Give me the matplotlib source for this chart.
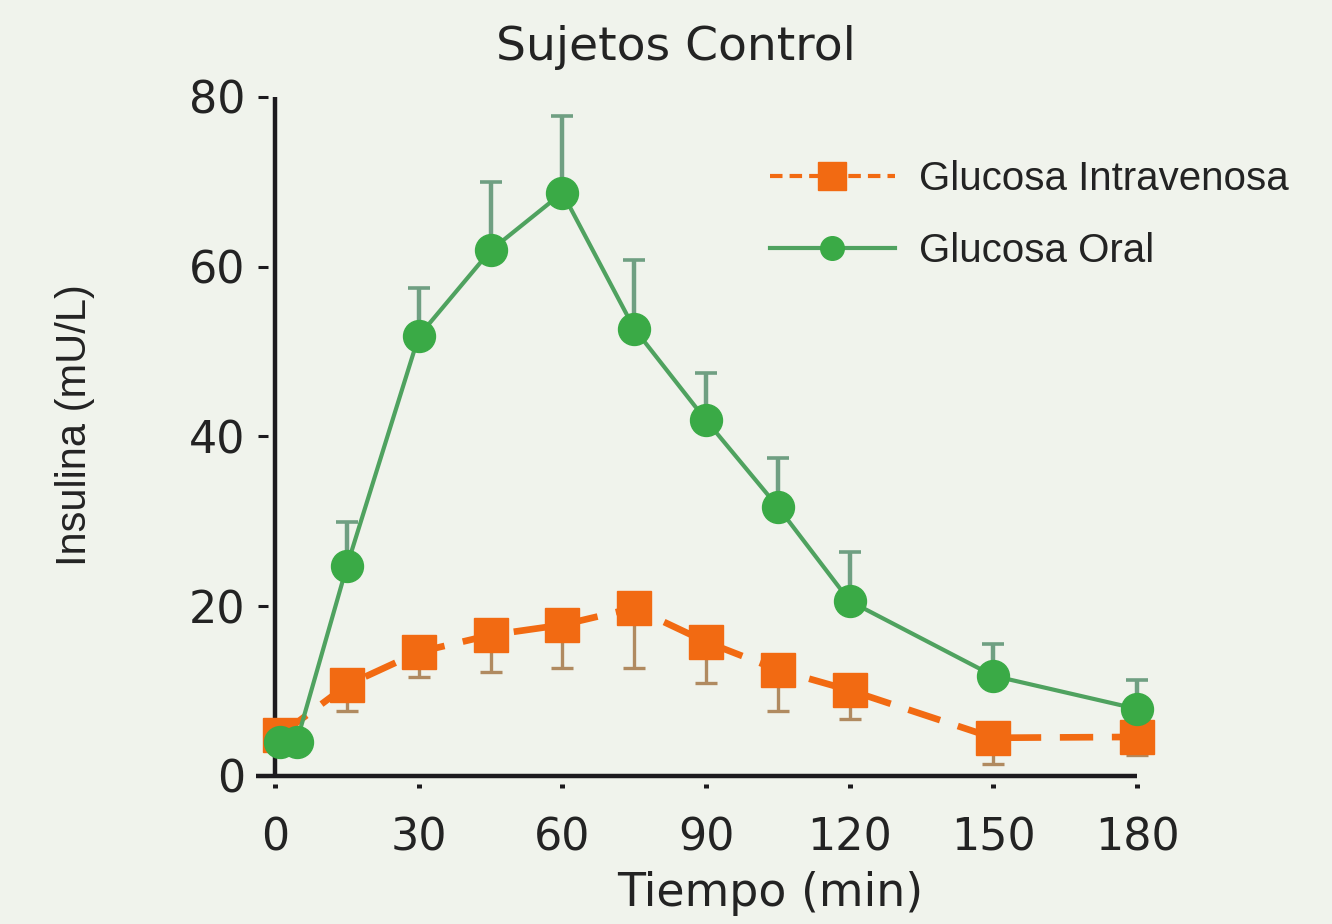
import matplotlib.pyplot as plt
from matplotlib.lines import Line2D

# tiempo (min) y insulina (mU/L)
t_oral = [1, 4.5, 15, 30, 45, 60, 75, 90, 105, 120, 150, 180]
ins_oral = [4.0, 4.0, 24.7, 51.8, 61.9, 68.7, 52.7, 41.9, 31.7, 20.6, 11.8, 7.9]
err_oral = [0, 0, 5.2, 5.7, 8.1, 9.0, 8.1, 5.6, 5.8, 5.8, 3.7, 3.4]

t_iv = [1, 15, 30, 45, 60, 75, 90, 105, 120, 150, 180]
ins_iv = [4.8, 10.7, 14.6, 16.6, 17.8, 19.8, 15.8, 12.5, 10.1, 4.5, 4.6]
err_iv = [0, 3.0, 2.9, 4.3, 5.1, 7.1, 4.8, 4.8, 3.4, 3.1, 2.1]

x_ticks = [0, 30, 60, 90, 120, 150, 180]
y_ticks = [0, 20, 40, 60, 80]

bg = '#f0f3ec'
orange = '#f26a12'
green = '#3aaa46'
green_line = '#4fa25f'
text_col = '#232323'

fig = plt.figure(figsize=(13.32, 9.24), dpi=100, facecolor=bg)
ax = fig.add_axes([0.2011, 0.1510, 0.6597, 0.7626])
ax.set_facecolor(bg)

# intravenosa: barras hacia abajo
ax.errorbar(t_iv, ins_iv, yerr=[err_iv, [0] * len(err_iv)], fmt='none',
            ecolor='#b08a60', elinewidth=2.4, capsize=8, capthick=2.4, zorder=2, clip_on=False)
ax.plot(t_iv, ins_iv, color=orange, lw=4.8, dashes=(5, 2.8), marker='s', ms=24,
        mec=orange, zorder=3, clip_on=False)

# oral: barras hacia arriba
ax.errorbar(t_oral, ins_oral, yerr=[[0] * len(err_oral), err_oral], fmt='none',
            ecolor='#6f9f82', elinewidth=3.2, capsize=8, capthick=2.6, zorder=4, clip_on=False)
ax.plot(t_oral, ins_oral, color=green_line, lw=3, zorder=5, clip_on=False)
ax.plot(t_oral, ins_oral, ls='none', marker='o', ms=23, mfc=green, mec=green,
        zorder=6, clip_on=False)

# ejes dibujados a mano, separados de las marcas
for s in ax.spines.values():
    s.set_visible(False)
ax.plot([0, 0], [0, 80], color='#1c1a1e', lw=3.2, zorder=1, clip_on=False, solid_capstyle='butt')
ax.plot([-4, 180], [0, 0], color='#1c1a1e', lw=3.2, zorder=1, clip_on=False, solid_capstyle='butt')

ax.set_xlim(-1.5, 182)
ax.set_ylim(-1, 82)
ax.set_xticks(x_ticks)
ax.set_yticks(y_ticks)
ax.tick_params(axis='y', direction='out', length=7, width=2.2, color='#1c1a1e',
               pad=9, labelsize=32, labelcolor=text_col)
ax.tick_params(axis='x', direction='out', length=3, width=3.6, color='#1c1a1e',
               pad=20, labelsize=32, labelcolor=text_col)

fig.text(676 / 1332, 1 - 47 / 924, 'Sujetos Control', ha='center', va='center',
         fontsize=34, color=text_col)
fig.text(770 / 1332, 1 - 893 / 924, 'Tiempo (min)', ha='center', va='center',
         fontsize=33, color=text_col)
fig.text(75 / 1332, 1 - 425 / 924, 'Insulina (mU/L)', ha='center', va='center',
         rotation=90, fontsize=30, family='Liberation Sans', color=text_col)

handles = [
    Line2D([], [], color=orange, lw=3, dashes=(3, 1.7), marker='s', ms=20, mec=orange),
    Line2D([], [], color=green_line, lw=3, marker='o', ms=17, mfc=green, mec=green),
]
fig.legend(handles, ['Glucosa Intravenosa', 'Glucosa Oral'], loc='upper left',
           bbox_to_anchor=(770 / 1332, 1 - 160 / 924), frameon=False, borderpad=0,
           borderaxespad=0, handlelength=3.1, handletextpad=0.6, labelspacing=0.85,
           prop={'family': 'Liberation Sans', 'size': 29}, labelcolor=text_col)

fig.savefig('out.png', dpi=100, facecolor=bg)
